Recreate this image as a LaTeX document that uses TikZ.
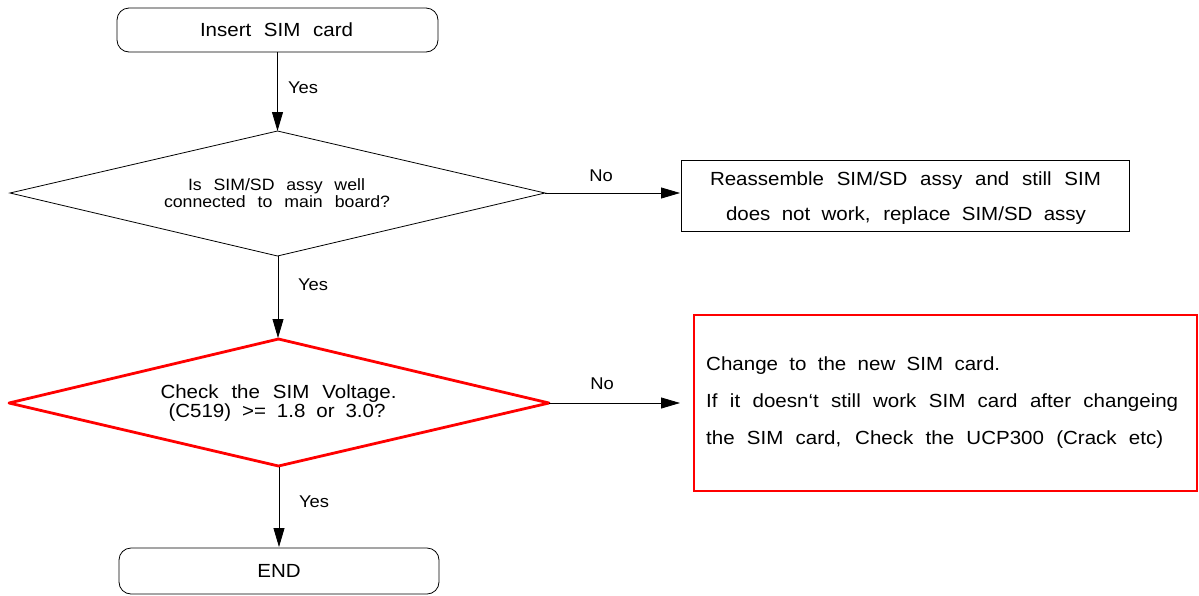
\documentclass[tikz,border=0pt]{standalone}
\usepackage{fontspec}
\setmainfont[FakeStretch=1.08]{Liberation Sans}
\usetikzlibrary{arrows.meta}
\newcommand{\fitline}[2]{\makebox[#1pt][s]{#2}}
\begin{document}
\begin{tikzpicture}[x=1pt,y=-1pt,
  conn/.style={line width=0.8pt,-{Triangle[length=19pt,width=11pt]}},
  lab/.style={font=\fontsize{17}{19}\selectfont,inner sep=0pt},
  txt/.style={font=\fontsize{19}{21}\selectfont,inner sep=0pt,anchor=base},
  small/.style={font=\fontsize{16.4}{18}\selectfont,inner sep=0pt,anchor=base},
  blackline/.style={draw=black,line width=0.8pt},
  redline/.style={draw=red,line width=2.8pt,line join=round},
]
\useasboundingbox (0,0) rectangle (1199,595);
% start
\draw[blackline,rounded corners=12pt] (117,8) rectangle (438,52);
\node[txt] (start) at (276.5,36) {\fitline{153}{Insert SIM card}};
\coordinate (startb) at (277.5,52);
% diamond 1
\draw[blackline] (277.5,131) -- (545,193) -- (277.5,256) -- (10,193) -- cycle;
\coordinate (d1t) at (277.5,131);
\coordinate (d1r) at (545,193);
\coordinate (d1b) at (278,256);
\node[small] (d1a) at (276.5,190) {\fitline{177}{Is SIM/SD assy well}};
\node[small] (d1b2) at (277,207.5) {\fitline{226}{connected to main board?}};
% box 1
\draw[blackline] (681,160) rectangle (1129,231);
\coordinate (b1l) at (680,193);
\node[txt] (b1a) at (905.5,185.5) {\fitline{391}{Reassemble SIM/SD assy and still SIM}};
\node[txt] (b1b) at (906,220.5) {\fitline{360}{does not work, replace SIM/SD assy}};
% diamond 2
\draw[redline] (278.5,339) -- (549,403) -- (278.5,466) -- (9,403) -- cycle;
\coordinate (d2t) at (278,338);
\coordinate (d2r) at (549,403);
\coordinate (d2b) at (279,467);
\node[txt] (d2a) at (278.5,398.5) {\fitline{236}{Check the SIM Voltage.}};
\node[txt] (d2b2) at (277,417) {\fitline{217}{(C519) >= 1.8 or 3.0?}};
% red box
\draw[redline,line join=miter] (694,315) rectangle (1197,491);
\coordinate (b2l) at (680,403);
\node[txt,anchor=base west] (b2a) at (706,370.7) {\fitline{294}{Change to the new SIM card.}};
\node[txt,anchor=base west] (b2b) at (706,407.3) {\fitline{472}{If it doesn\symbol{96}t still work SIM card after changeing}};
\node[txt,anchor=base west] (b2c) at (706,444) {\fitline{457}{the SIM card, Check the UCP300 (Crack etc)}};
% end
\draw[blackline,rounded corners=12pt] (119,548) rectangle (439,594);
\node[txt] (end) at (279,577.5) {END};
\coordinate (endt) at (279,547);
% connectors
\draw[conn] (startb) -- (d1t);
\node[lab] (y1) at (303,87.5) {Yes};
\draw[conn] (d1r) -- (b1l);
\node[lab] (n1) at (601,176) {No};
\draw[conn] (d1b) -- (d2t);
\node[lab] (y2) at (313,285) {Yes};
\draw[conn] (d2r) -- (b2l);
\node[lab] (n2) at (602,384) {No};
\draw[conn] (d2b) -- (endt);
\node[lab] (y3) at (314,502) {Yes};
\end{tikzpicture}
\end{document}
